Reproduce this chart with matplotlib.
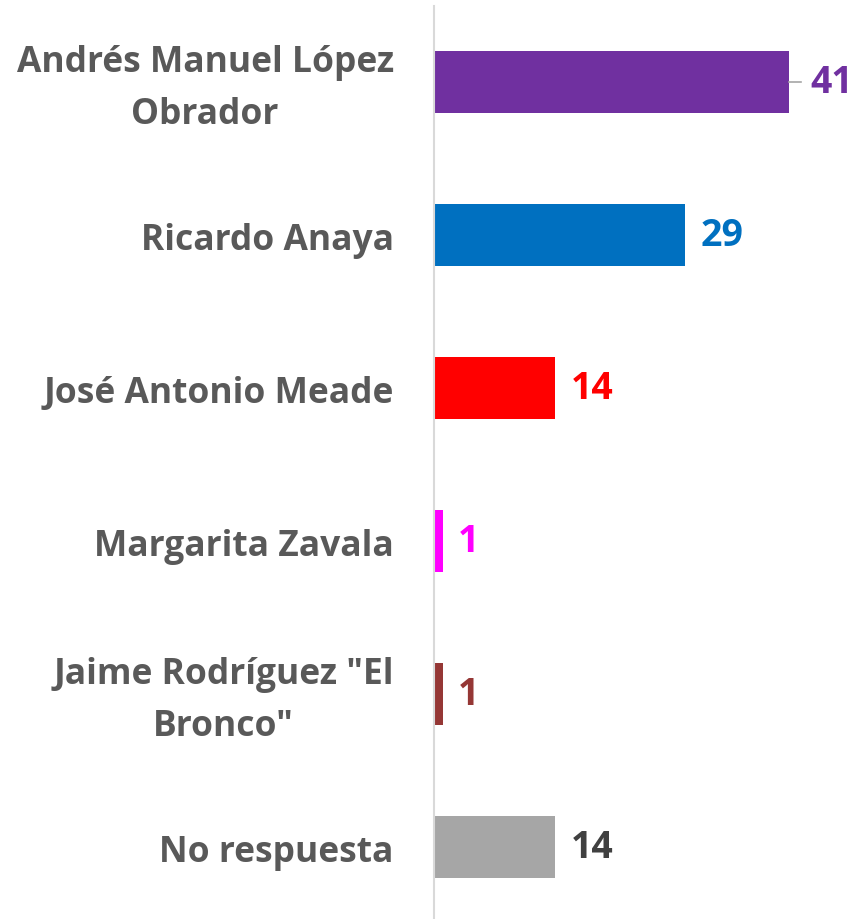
import matplotlib.pyplot as plt
import numpy as np

candidates = [
    "Andrés Manuel López\nObrador",
    "Ricardo Anaya",
    "José Antonio Meade",
    "Margarita Zavala",
    "Jaime Rodríguez \"El\nBronco\"",
    "No respuesta",
]
votes = [41, 29, 14, 1, 1, 14]
bar_colors = ["#7030A0", "#0070C0", "#FF0000", "#FF00FF", "#953735", "#A6A6A6"]
value_colors = ["#7030A0", "#0070C0", "#FF0000", "#FF00FF", "#953735", "#404040"]

plt.rcParams["font.family"] = ["Open Sans", "DejaVu Sans"]

fig = plt.figure(figsize=(8.56, 9.2), dpi=100)
ax = fig.add_axes([434 / 856, 0.0, 416 / 856, 913 / 920])

pos = np.arange(len(candidates))
ax.barh(pos, votes, height=0.405, color=bar_colors)

top = max(votes)
for y, v, c in zip(pos, votes, value_colors):
    # the longest bar gets a leader line, so its label sits a bit further out
    dx = 15 if v == top else 11
    ax.annotate(str(v), (v, y), xytext=(dx, 0), textcoords="offset points",
                va="center", ha="left", fontsize=27, fontweight="bold", color=c)

ax.plot([top, top + 1.3], [0, 0], color="#A6A6A6", lw=1.2)

# category names drawn as annotations so two-line names can be nudged up
for y, name in zip(pos, candidates):
    dy = 5 if "\n" in name else 0
    ax.annotate(name, (0, y), xytext=(-29, dy), textcoords="offset points",
                xycoords=("axes fraction", "data"), ha="right",
                va="center_baseline", multialignment="center", linespacing=1.6,
                fontsize=25.5, fontweight="bold", color="#595959",
                annotation_clip=False)

ax.set_xlim(0, 48)
ax.set_ylim(5.47, -0.5)
ax.set_yticks([])
ax.set_xticks([])

for side in ["top", "right", "bottom"]:
    ax.spines[side].set_visible(False)
ax.spines["left"].set_color("#D9D9D9")
ax.spines["left"].set_linewidth(1.5)

fig.savefig("out.png", dpi=100)
